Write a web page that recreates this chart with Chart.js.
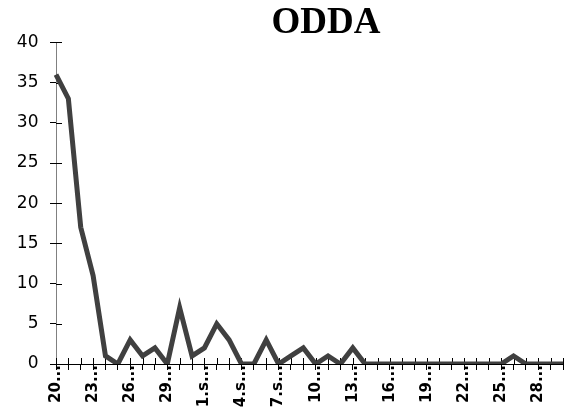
<!DOCTYPE html>
<html>
<head>
<meta charset="utf-8">
<script src="https://cdn.jsdelivr.net/npm/chart.js@4/dist/chart.umd.min.js"></script>
<style>
  html, body { margin: 0; padding: 0; background: #fff; }
  #wrap { width: 569px; height: 412px; position: relative; }
</style>
</head>
<body>
<div id="wrap"><canvas id="c" width="569" height="412"></canvas></div>
<script>
const chartTitle = 'ODDA';
const categories = [
  '20.aug','21.aug','22.aug','23.aug','24.aug','25.aug','26.aug','27.aug','28.aug','29.aug','30.aug','31.aug',
  '1.sep','2.sep','3.sep','4.sep','5.sep','6.sep','7.sep','8.sep','9.sep','10.sep','11.sep','12.sep','13.sep',
  '14.sep','15.sep','16.sep','17.sep','18.sep','19.sep','20.sep','21.sep','22.sep','23.sep','24.sep','25.sep',
  '26.sep','27.sep','28.sep','29.sep','30.sep'
];
const tickLabels = ['20...','23...','26...','29...','1.s...','4.s...','7.s...','10...','13...','16...','19...','22...','25...','28...'];
const values = [36,33,17,11,1,0,3,1,2,0,7,1,2,5,3,0,0,3,0,1,2,0,1,0,2,0,0,0,0,0,0,0,0,0,0,0,0,1,0,0,0,0];
const yTicks = [0,5,10,15,20,25,30,35,40];

const titleShift = {
  id: 'titleShift',
  afterLayout(chart) {
    const t = chart.titleBlock;
    if (t) { t.left += 44.5; t.right += 44.5; }
  }
};

const crossTicks = {
  id: 'crossTicks',
  beforeDatasetsDraw(chart) {
    const { ctx, chartArea: a, scales: { x, y } } = chart;
    ctx.save();
    ctx.strokeStyle = '#000';
    ctx.lineWidth = 1;
    ctx.beginPath();
    x.ticks.forEach((t, i) => {
      const px = Math.round(x.getPixelForTick(i)) + 0.5;
      ctx.moveTo(px, a.bottom);
      ctx.lineTo(px, a.bottom - 6);
    });
    y.ticks.forEach((t, i) => {
      const py = Math.round(y.getPixelForTick(i)) + 0.5;
      ctx.moveTo(a.left, py);
      ctx.lineTo(a.left + 6, py);
    });
    ctx.stroke();
    ctx.restore();
  }
};

new Chart(document.getElementById('c'), {
  type: 'line',
  data: {
    labels: categories,
    datasets: [{
      label: chartTitle,
      data: values,
      borderColor: '#404040',
      backgroundColor: '#404040',
      borderWidth: 5,
      pointRadius: 0,
      pointHoverRadius: 0,
      tension: 0,
      fill: false,
      borderJoinStyle: 'miter'
    }]
  },
  options: {
    responsive: false,
    animation: false,
    events: [],
    layout: { padding: { left: 0, right: 6, top: 0, bottom: 0 } },
    plugins: {
      legend: { display: false },
      tooltip: { enabled: false },
      title: {
        display: true,
        text: chartTitle,
        color: '#000',
        font: { family: "'Liberation Serif', 'Times New Roman', serif", size: 37, weight: 'bold', lineHeight: 0.957 },
        padding: { top: 6, bottom: 1 }
      }
    },
    scales: {
      x: {
        type: 'category',
        offset: false,
        border: { display: true, color: '#000', width: 1 },
        grid: { display: true, drawOnChartArea: false, drawTicks: true, tickLength: 6, tickColor: '#000' },
        afterFit: (s) => { s.height = 48; s.paddingLeft = 0; s.paddingRight = 0; },
        ticks: {
          autoSkip: false,
          minRotation: 90,
          maxRotation: 90,
          padding: -5,
          color: '#000',
          font: { family: "'DejaVu Sans', Verdana, sans-serif", size: 15, weight: 'bold' },
          callback: (v, i) => (i % 3 === 0 ? tickLabels[i / 3] : '')
        }
      },
      y: {
        min: 0,
        max: 40,
        border: { display: true, color: '#808080', width: 1 },
        grid: { display: true, drawOnChartArea: false, drawTicks: true, tickLength: 6, tickColor: '#000' },
        afterBuildTicks: (s) => { s.ticks = yTicks.map(v => ({ value: v })); },
        afterFit: (s) => { s.width = 56; s.paddingTop = 0; s.paddingBottom = 0; },
        ticks: {
          padding: 11.5,
          color: '#000',
          font: { family: "'DejaVu Sans', Verdana, sans-serif", size: 17 }
        }
      }
    }
  },
  plugins: [titleShift, crossTicks]
});
</script>
</body>
</html>
